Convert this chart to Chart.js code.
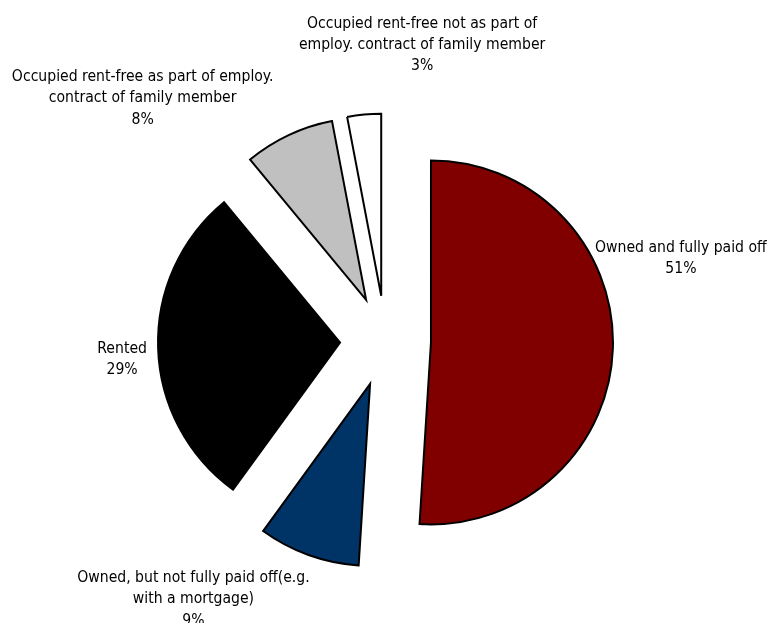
<!DOCTYPE html>
<html>
<head>
<meta charset="utf-8">
<title>Tenure status</title>
<script src="https://cdn.jsdelivr.net/npm/chart.js@4/dist/chart.umd.min.js"></script>
<style>
  html, body { margin: 0; padding: 0; background: #fff; }
  #wrap { width: 772px; height: 623px; position: relative; }
</style>
</head>
<body>
<div id="wrap"><canvas id="tenureChart"></canvas></div>
<script>
const categories = [
  ['Owned and fully paid off'],
  ['Owned, but not fully paid off(e.g.', 'with a mortgage)'],
  ['Rented'],
  ['Occupied rent-free as part of employ.', 'contract of family member'],
  ['Occupied rent-free not as part of', 'employ. contract of family member'],
];
const shares = [51, 9, 29, 8, 3];
const sliceColors = ['#800000', '#003366', '#000000', '#C0C0C0', '#FFFFFF'];

// label block shift (x to block centre, y to first baseline) from the slice's outer mid point
const labelShift = [
  [68, -96],
  [-115, 27],
  [-36, 5],
  [-146, -54],
  [58, -87],
];

const explode = 45.5;
const labelFont = '15.6px "DejaVu Sans Condensed", "DejaVu Sans", sans-serif';
const lineHeight = 21.3;

// every slice pulled out from the centre by the same distance
const explodedSlices = {
  id: 'explodedSlices',
  beforeDatasetDraw(chart, args) {
    const ctx = chart.ctx;
    args.meta.data.forEach((arc) => {
      const mid = (arc.startAngle + arc.endAngle) / 2;
      ctx.save();
      ctx.translate(Math.cos(mid) * explode, Math.sin(mid) * explode);
      arc.draw(ctx);
      ctx.restore();
    });
    return false;
  },
  afterDatasetsDraw(chart) {
    const ctx = chart.ctx;
    const meta = chart.getDatasetMeta(0);
    ctx.save();
    ctx.font = labelFont;
    ctx.fillStyle = '#000';
    ctx.textAlign = 'center';
    ctx.textBaseline = 'alphabetic';
    meta.data.forEach((arc, i) => {
      const mid = (arc.startAngle + arc.endAngle) / 2;
      const dist = arc.outerRadius + explode;
      const x = arc.x + Math.cos(mid) * dist + labelShift[i][0];
      let y = arc.y + Math.sin(mid) * dist + labelShift[i][1];
      const lines = categories[i].concat([shares[i] + '%']);
      lines.forEach((line) => {
        ctx.fillText(line, x, y);
        y += lineHeight;
      });
    });
    ctx.restore();
  },
};

new Chart(document.getElementById('tenureChart'), {
  type: 'pie',
  data: {
    labels: categories,
    datasets: [
      {
        data: shares,
        backgroundColor: sliceColors,
        borderColor: '#000',
        borderWidth: 2,
        borderJoinStyle: 'miter',
        offset: 0,
      },
    ],
  },
  options: {
    responsive: true,
    maintainAspectRatio: false,
    animation: false,
    radius: 182,
    layout: { padding: { left: 0, right: 1, top: 59, bottom: 0 } },
    plugins: {
      legend: { display: false },
      tooltip: { enabled: false },
    },
  },
  plugins: [explodedSlices],
});
</script>
</body>
</html>
